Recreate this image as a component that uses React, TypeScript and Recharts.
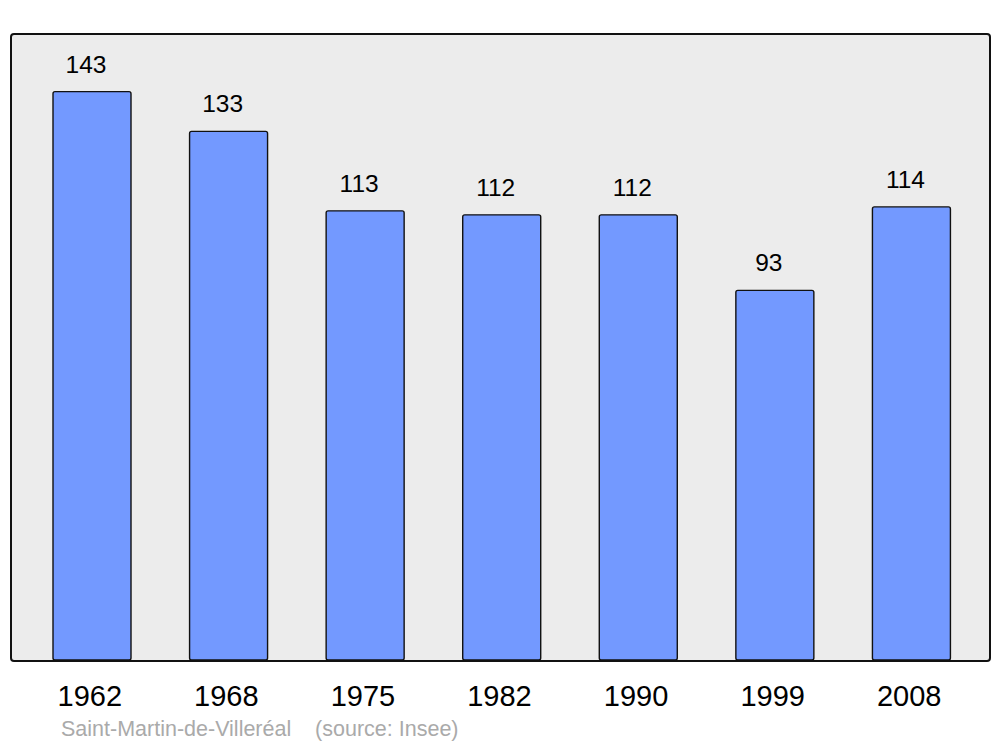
import React from 'react';
import { BarChart, Bar, XAxis, YAxis, LabelList } from 'recharts';

const years = ['1962', '1968', '1975', '1982', '1990', '1999', '2008'];
const population = [143, 133, 113, 112, 112, 93, 114];

const data = years.map((year, i) => ({ year, population: population[i] }));

const FONT = '"Liberation Sans", Arial, sans-serif';

const App: React.FC = () => {
  return (
    <div style={{ position: 'absolute', left: 0, top: 0, width: 1000, height: 747, fontFamily: FONT }}>
      <div
        style={{
          position: 'absolute',
          left: 10,
          top: 32.7,
          width: 980.7,
          height: 629,
          boxSizing: 'border-box',
          border: '2.5px solid #111',
          borderRadius: 4,
          background: '#ececec',
        }}
      />
      <div style={{ position: 'absolute', left: 0, top: 0 }}>
        <BarChart
          width={1000}
          height={747}
          data={data}
          margin={{ top: 34, right: 11, left: 11, bottom: 0 }}
        >
          <XAxis
            dataKey="year"
            height={87}
            axisLine={false}
            tickLine={false}
            tickSize={0}
            tickMargin={25}
            padding={{ left: 13, right: 9 }}
            tick={{ fill: '#000', fontSize: 29, fontFamily: FONT, dx: -2.5 }}
          />
          <YAxis hide domain={[0, 157.5]} />
          <Bar
            dataKey="population"
            barSize={78}
            fill="#7399ff"
            stroke="#111"
            strokeWidth={1.4}
            radius={2}
            isAnimationActive={false}
          >
            <LabelList
              dataKey="population"
              position="top"
              offset={19}
              dx={-6}
              fill="#000"
              fontSize={24.5}
              fontFamily={FONT}
            />
          </Bar>
        </BarChart>
      </div>
      <div
        style={{
          position: 'absolute',
          left: 61,
          top: 717,
          fontSize: 21.5,
          color: '#aaa',
          whiteSpace: 'pre',
        }}
      >
        {'Saint-Martin-de-Villeréal    (source: Insee)'}
      </div>
    </div>
  );
};

export default App;
